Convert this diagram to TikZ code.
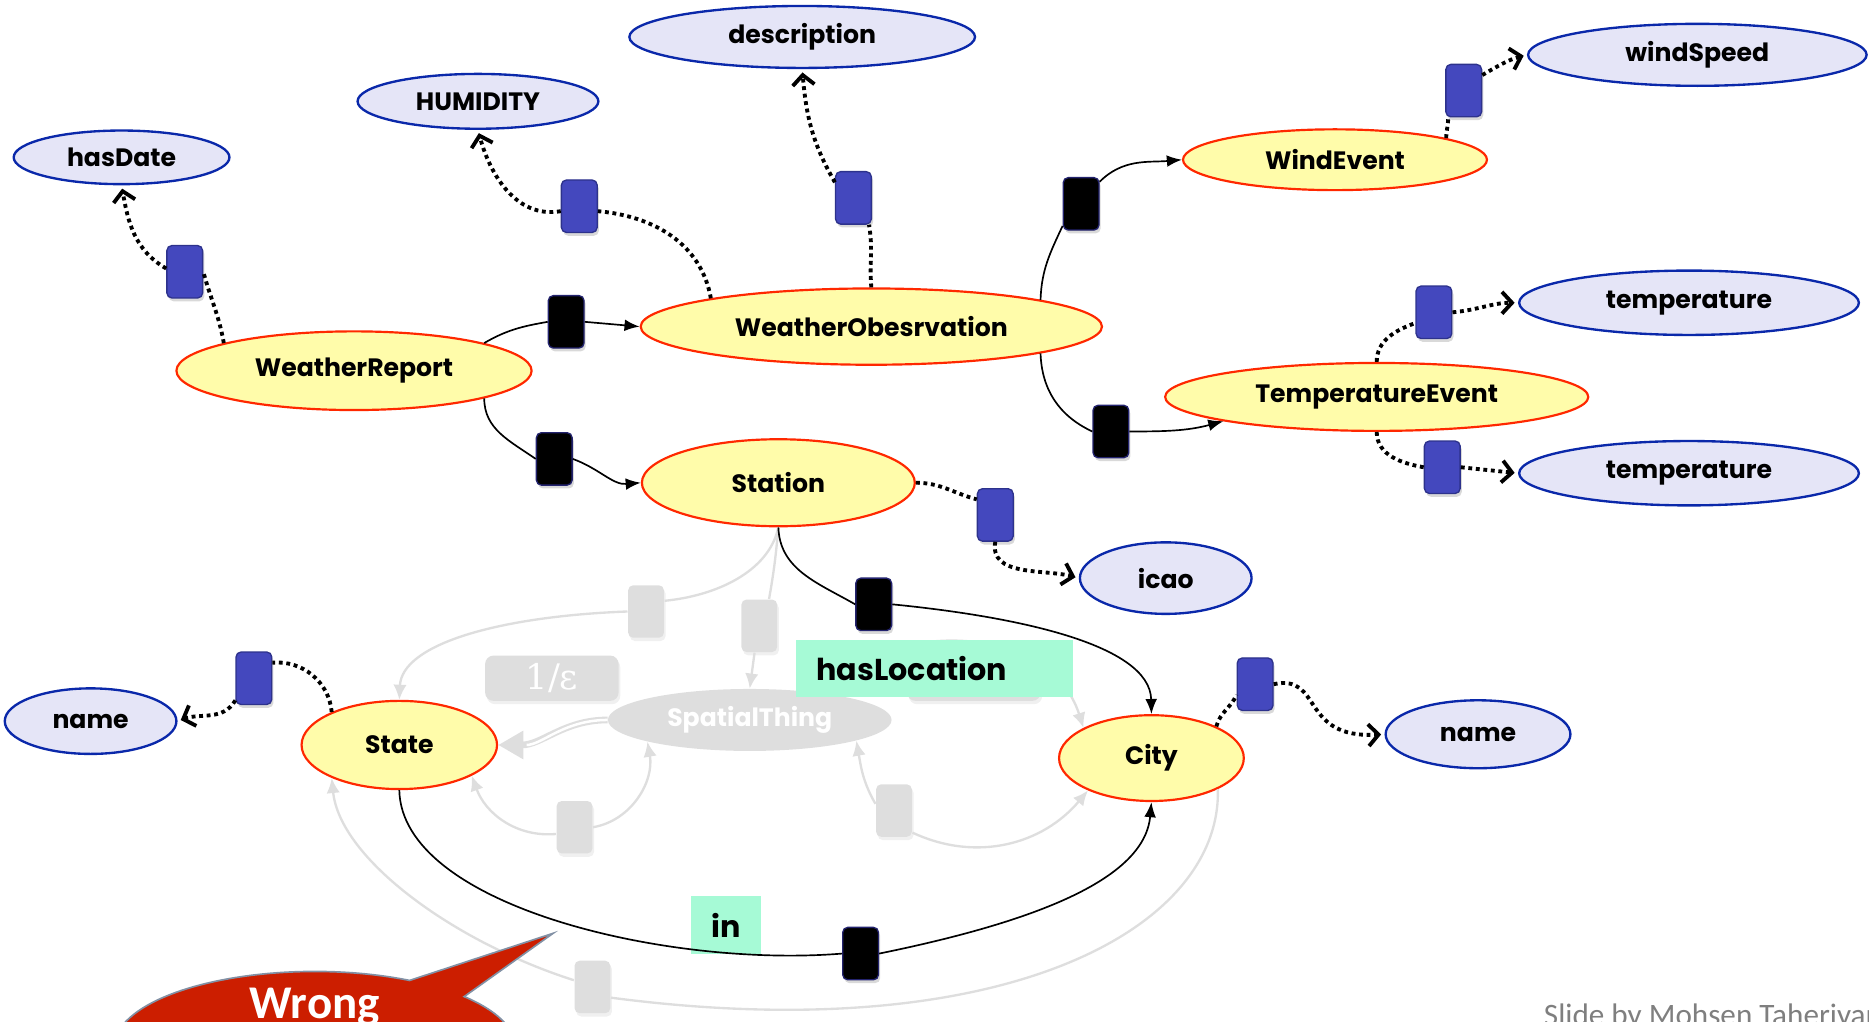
\documentclass[tikz,border=0pt]{standalone}
\usepackage{fontspec}
\setmainfont{Poppins}
\newfontfamily\calib{Carlito}
\newfontfamily\dvserif{DejaVu Serif}
\usetikzlibrary{shapes.geometric,shapes.callouts,arrows.meta,shadows}

\definecolor{attrfill}{RGB}{229,229,247}
\definecolor{attrline}{RGB}{10,40,170}
\definecolor{clsfill}{RGB}{255,252,170}
\definecolor{clsline}{RGB}{255,40,0}
\definecolor{propblue}{RGB}{68,72,190}
\definecolor{propblueline}{RGB}{45,50,140}
\definecolor{propdark}{RGB}{35,35,110}
\definecolor{ghost}{RGB}{222,222,222}
\definecolor{lblgreen}{RGB}{166,250,214}
\definecolor{wrongred}{RGB}{204,30,0}
\definecolor{wrongline}{RGB}{130,145,165}
\definecolor{credit}{RGB}{127,127,127}

\newcommand\nodefont{\fontsize{15}{18}\selectfont\bfseries}
\newcommand\tagfont{\fontsize{18}{21}\selectfont\bfseries}

\begin{document}
\begin{tikzpicture}[x=0.025cm,y=-0.025cm,
  attr/.style 2 args={ellipse, draw=attrline, fill=attrfill, line width=1.4pt,
     minimum width=#1*0.025cm, minimum height=#2*0.025cm, inner sep=0pt, font=\nodefont},
  cls/.style 2 args={ellipse, draw=clsline, fill=clsfill, line width=1.3pt,
     minimum width=#1*0.025cm, minimum height=#2*0.025cm, inner sep=0pt, font=\nodefont},
  pbox/.style={rectangle, rounded corners=3pt, minimum width=30*0.025cm,
     minimum height=44*0.025cm, inner sep=0pt, line width=0.8pt},
  bluebox/.style={pbox, fill=propblue, draw=propblueline,
     drop shadow={shadow xshift=1pt, shadow yshift=-2pt, opacity=.3}},
  blackbox/.style={pbox, fill=black, draw=propdark,
     drop shadow={shadow xshift=1pt, shadow yshift=-2pt, opacity=.3}},
  greybox/.style={pbox, fill=ghost, draw=none,
     drop shadow={shadow xshift=1pt, shadow yshift=-2pt, opacity=.12}},
  ghostlbl/.style={rectangle, rounded corners=5pt, fill=ghost, text=white,
     minimum width=112*0.025cm, minimum height=38*0.025cm, inner sep=0pt,
     font=\dvserif\fontsize{21}{21}\selectfont,
     drop shadow={shadow xshift=1pt, shadow yshift=-2pt, opacity=.12}},
  lblbox/.style={rectangle, fill=lblgreen, minimum height=48*0.025cm, inner ysep=0pt, font=\tagfont},
  objedge/.style={black, line width=1pt},
  objarrow/.style={objedge, -{Latex[length=9pt,width=7pt]}},
  dataedge/.style={black, line width=2.3pt, dash pattern=on 2.3pt off 2.2pt},
  dataarrow/.style={dataedge, -{Straight Barb[length=6pt,width=13pt]}, shorten >=2pt},
  ghostline/.style={ghost, line width=1.4pt},
  ghostarrow/.style={ghostline, -{Latex[length=9pt,width=8pt]}}
]
\useasboundingbox (0,0) rectangle (1568,857);
\clip (0,0) rectangle (1568,857);

% ---------- ghost layer (SpatialThing part) ----------
\node[ellipse, fill=ghost, minimum width=238*0.025cm, minimum height=52*0.025cm,
      inner sep=0pt, text=white, font=\nodefont] (sp) at (629,604) {SpatialThing};
\node[ghostlbl] (epsa) at (463,569) {1/ε};
\node[ghostlbl] (epsb) at (817,569) {1/ε};
\node[greybox] (g1) at (542,513) {};
\node[greybox] (g2) at (637,525) {};
\node[greybox] (g3) at (482,694) {};
\node[greybox] (g4) at (750,680) {};
\node[greybox] (g5) at (497,828) {};

% ---------- class nodes ----------
\node[cls={298}{66}] (wr) at (297,311) {WeatherReport};
\node[cls={387}{64}] (wo) at (731,274) {WeatherObesrvation};
\node[cls={255}{51}] (we) at (1120,134) {WindEvent};
\node[cls={355}{57}] (te) at (1155,333) {TemperatureEvent};
\node[cls={229}{73}] (st) at (653,405) {Station};
\node[cls={164}{74}] (state) at (335,625) {State};
\node[cls={155}{72}] (city) at (966,636) {City};

% ---------- attribute nodes ----------
\node[attr={181}{45}] (hasdate) at (102,132) {hasDate};
\node[attr={202}{46}] (humid) at (401,85) {HUMIDITY};
\node[attr={290}{52}] (desc) at (673,31) {description};
\node[attr={284}{52}] (wspeed) at (1424,46) {windSpeed};
\node[attr={285}{54}] (tempa) at (1417,254) {temperature};
\node[attr={285}{54}] (tempb) at (1417,397) {temperature};
\node[attr={144}{60}] (icao) at (978,485) {icao};
\node[attr={144}{55}] (namel) at (76,605) {name};
\node[attr={155}{57}] (namer) at (1240,616) {name};

% ---------- ghost edges ----------
\draw[ghostline] (st.south) .. controls (645,480) and (600,500) .. (g1.30);
\draw[ghostarrow] (g1.west) .. controls (420,517) and (337,540) .. (state.north);
\draw[ghostline] (st.south) to[out=-95,in=80] (g2.70);
\draw[ghostarrow] (g2.-100) -- (sp.north);
\draw[ghostarrow] (g3.-160) to[out=185,in=-70] (state.-23.5);
\draw[ghostarrow] (g3.east) to[out=10,in=-80] (sp.-168);
\draw[ghostarrow] (g4.160) to[out=120,in=-80] (sp.-11.5);
\draw[ghostarrow] (g4.-50) to[out=-25,in=-130] (city.-153);
\draw[ghostline] (city.-25) .. controls (1025,780) and (840,880) .. (g5.-30);
\draw[ghostarrow] (g5.160) .. controls (380,790) and (285,720) .. (state.-154);
\draw[ghostarrow] (sp.20) .. controls (740,520) and (880,520) .. (city.156);
\draw[ghost, line width=4pt, -{Triangle[length=15pt,width=16pt]}] (sp.west) to[out=180,in=0] (state.east);
\draw[white, line width=1.5pt, shorten >=17pt] (sp.west) to[out=180,in=0] (state.east);

% ---------- edge labels ----------
\node[lblbox, text width=198*0.025cm, inner xsep=17*0.025cm, align=left] (hasloc) at (784,561) {hasLocation};
\node[lblbox, minimum width=59*0.025cm, inner xsep=0pt] (inlbl) at (609,776) {in};

% ---------- property boxes ----------
\node[blackbox] (b1) at (475,270) {};
\node[blackbox] (b2) at (465,385) {};
\node[blackbox] (b3) at (907,171) {};
\node[blackbox] (b4) at (932,362) {};
\node[blackbox] (b5) at (733,507) {};
\node[blackbox] (b6) at (722,800) {};
\node[bluebox] (hb) at (155,228) {};
\node[bluebox] (hu) at (486,173) {};
\node[bluebox] (db) at (716,166) {};
\node[bluebox] (wsb) at (1228,76) {};
\node[bluebox] (t1) at (1203,262) {};
\node[bluebox] (t2) at (1210,392) {};
\node[bluebox] (icb) at (835,432) {};
\node[bluebox] (nlb) at (213,569) {};
\node[bluebox] (nrb) at (1053,574) {};

% ---------- object property edges ----------
\draw[objedge] (wr.12.5) to[out=30,in=190] (b1.west);
\draw[objarrow] (b1.east) -- (wo.west);
\draw[objedge] (wr.-12.5) to[out=-90,in=145] (b2.west);
\draw[objarrow] (b2.east) to[out=-20,in=185] (st.west);
\draw[objedge] (wo.9.4) to[out=88,in=-115] (b3.-130);
\draw[objarrow] (b3.50) to[out=45,in=185] (we.west);
\draw[objedge] (wo.-9.4) to[out=-88,in=155] (b4.west);
\draw[objarrow] (b4.east) to[out=0,in=195] (te.-171.4);
\draw[objedge] (st.south) to[out=-88,in=150] (b5.west);
\draw[objarrow] (b5.east) .. controls (850,517) and (965,540) .. (city.north);
\draw[objedge] (state.south) .. controls (337,760) and (560,812) .. (b6.west);
\draw[objarrow] (b6.east) .. controls (860,775) and (960,740) .. (city.south);

% ---------- datatype property edges ----------
\draw[dataedge] (wr.168) to[out=100,in=-75] (hb.east);
\draw[dataarrow] (hb.170) to[out=150,in=-80] (hasdate.south);
\draw[dataedge] (wo.170.6) to[out=100,in=-5] (hu.-15);
\draw[dataarrow] (hu.-165) to[out=190,in=-75] (humid.south);
\draw[dataedge] (wo.north) to[out=95,in=-80] (db.-60);
\draw[dataarrow] (db.140) to[out=120,in=-85] (desc.south);
\draw[dataedge] (we.11) to[out=90,in=-90] (wsb.-120);
\draw[dataarrow] (wsb.40) to[out=30,in=195] (wspeed.west);
\draw[dataedge] (te.north) to[out=90,in=200] (t1.-150);
\draw[dataarrow] (t1.east) to[out=5,in=180] (tempa.west);
\draw[dataedge] (te.south) to[out=-90,in=170] (t2.west);
\draw[dataarrow] (t2.east) -- (tempb.west);
\draw[dataedge] (st.east) to[out=0,in=165] (icb.140);
\draw[dataarrow] (icb.south) to[out=-100,in=165] (icao.west);
\draw[dataedge] (state.154) to[out=95,in=5] (nlb.40);
\draw[dataarrow] (nlb.-130) to[out=-120,in=20] (namel.east);
\draw[dataedge] (city.26) to[out=75,in=-115] (nrb.-150);
\draw[dataarrow] (nrb.east) .. controls (1110,565) and (1090,620) .. (namer.west);

% ---------- callout and credit ----------
\coordinate (wtip) at (464,783);
\node[ellipse callout, fill=wrongred, draw=wrongline, line width=1pt,
      minimum width=336*0.025cm, minimum height=126*0.025cm,
      callout absolute pointer={(wtip)}, callout pointer arc=20,
      text=white, font=\calib\bfseries\fontsize{28}{30}\selectfont,
      text height=19pt, text depth=52pt, inner ysep=-12pt, inner xsep=0pt] (wrong) at (264,878) {Wrong};
\node[anchor=base west, text=credit, font=\calib\fontsize{18.6}{20}\selectfont, inner sep=0pt]
      (creditline) at (1295,860) {Slide by Mohsen Taheriyan};
\end{tikzpicture}
\end{document}
